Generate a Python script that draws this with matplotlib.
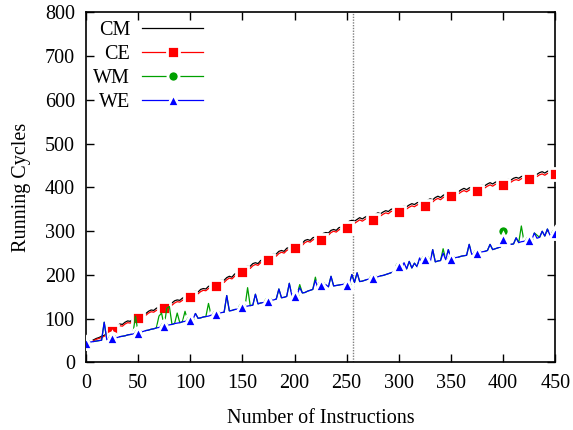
import numpy as np
import matplotlib
matplotlib.use("Agg")
import matplotlib.pyplot as plt

plt.rcParams['font.family'] = ['Liberation Serif', 'DejaVu Serif']
plt.rcParams['font.size'] = 14.5

# x grid: number of instructions (step 2.5)
x_start, x_stop, x_step = 0, 450, 2.5

CM = [45, 47, 49, 52, 55, 57, 60, 62, 66, 70,
      76, 82, 84, 88, 87, 92, 95, 94, 99, 103,
      105, 110, 114, 112, 117, 120, 119, 124, 126, 125,
      128, 134, 137, 136, 141, 143, 142, 147, 150, 151,
      153, 160, 164, 161, 167, 169, 168, 174, 176, 175,
      178, 186, 189, 188, 194, 197, 195, 202, 205, 207,
      210, 218, 221, 220, 226, 228, 226, 233, 235, 236,
      238, 246, 249, 248, 254, 256, 254, 261, 263, 262,
      265, 272, 274, 273, 279, 281, 279, 285, 287, 286,
      286, 295, 297, 296, 302, 304, 302, 308, 310, 309,
      312, 323, 325, 323, 327, 331, 328, 332, 335, 333,
      330, 339, 342, 340, 344, 347, 345, 350, 352, 350,
      349, 355, 358, 356, 360, 363, 361, 365, 367, 365,
      362, 371, 374, 372, 377, 380, 377, 382, 385, 383,
      385, 390, 393, 391, 395, 398, 395, 399, 401, 399,
      397, 403, 406, 404, 408, 411, 408, 412, 414, 412,
      411, 416, 419, 417, 421, 423, 421, 425, 427, 425,
      424, 429, 432, 430, 434, 436, 433, 437, 439, 437,
      435]

CE = [45, 46, 48, 50, 53, 55, 57, 60, 63, 68,
      72, 78, 80, 84, 83, 88, 91, 90, 95, 99,
      101, 106, 110, 108, 113, 116, 115, 119, 122, 121,
      124, 130, 133, 131, 136, 139, 138, 142, 146, 147,
      149, 156, 159, 157, 162, 165, 164, 169, 172, 171,
      174, 181, 185, 183, 189, 193, 191, 197, 201, 203,
      206, 213, 217, 215, 221, 224, 222, 228, 231, 232,
      234, 241, 245, 243, 249, 252, 250, 256, 259, 258,
      261, 267, 270, 268, 274, 277, 275, 280, 283, 282,
      281, 290, 293, 291, 297, 300, 298, 303, 306, 305,
      307, 318, 320, 318, 322, 326, 323, 327, 330, 328,
      325, 334, 337, 335, 339, 342, 340, 345, 347, 345,
      344, 350, 353, 351, 355, 358, 356, 360, 362, 360,
      357, 366, 369, 367, 372, 375, 372, 377, 380, 378,
      380, 385, 388, 386, 390, 393, 390, 394, 396, 394,
      392, 398, 401, 399, 403, 406, 403, 407, 409, 407,
      406, 411, 414, 412, 416, 418, 416, 420, 422, 420,
      419, 424, 427, 425, 429, 431, 428, 432, 434, 432,
      430]

WE = [45, 46, 47, 48, 49, 50, 51, 92, 52, 54,
      55, 56, 57, 59, 60, 61, 63, 64, 65, 67,
      68, 70, 71, 73, 74, 76, 77, 79, 80, 82,
      83, 84, 86, 87, 89, 90, 91, 93, 94, 96,
      97, 98, 112, 101, 102, 104, 105, 106, 108, 109,
      111, 112, 114, 115, 153, 118, 119, 121, 122, 124,
      126, 127, 129, 130, 131, 156, 134, 136, 137, 139,
      140, 142, 143, 145, 168, 148, 149, 151, 181, 152,
      153, 156, 171, 159, 160, 163, 165, 167, 188, 169,
      176, 172, 178, 173, 197, 175, 176, 177, 178, 179,
      178, 180, 201, 183, 205, 185, 186, 188, 190, 191,
      194, 194, 196, 198, 199, 201, 203, 205, 207, 208,
      221, 212, 228, 214, 231, 216, 227, 219, 239, 222,
      237, 226, 228, 258, 230, 232, 233, 250, 235, 258,
      237, 239, 240, 241, 243, 244, 245, 270, 247, 249,
      251, 251, 253, 254, 256, 270, 258, 260, 262, 264,
      283, 267, 268, 270, 271, 285, 274, 276, 277, 279,
      280, 281, 296, 284, 286, 300, 289, 305, 291, 292,
      295]

WM = [45, 46, 47, 48, 49, 50, 51, 92, 52, 54,
      55, 56, 57, 59, 60, 61, 63, 64, 65, 106,
      68, 70, 71, 73, 74, 76, 77, 79, 106, 113,
      83, 124, 128, 87, 89, 113, 91, 93, 117, 96,
      97, 98, 112, 101, 102, 104, 105, 135, 108, 109,
      111, 112, 114, 115, 153, 118, 119, 121, 122, 124,
      126, 127, 171, 130, 131, 156, 134, 136, 137, 139,
      140, 142, 143, 145, 168, 148, 149, 151, 181, 152,
      153, 156, 178, 159, 160, 163, 165, 167, 195, 169,
      176, 172, 178, 173, 197, 175, 176, 177, 178, 179,
      178, 180, 201, 183, 205, 185, 186, 188, 190, 191,
      194, 194, 196, 198, 199, 201, 203, 205, 207, 208,
      221, 212, 228, 214, 231, 216, 227, 219, 239, 222,
      237, 226, 228, 258, 230, 232, 233, 260, 235, 258,
      237, 239, 240, 241, 243, 244, 245, 270, 247, 249,
      251, 251, 253, 254, 256, 270, 258, 260, 262, 264,
      301, 267, 268, 270, 271, 285, 274, 312, 277, 279,
      280, 281, 296, 291, 286, 300, 289, 305, 291, 292,
      295]

x = np.arange(x_start, x_stop + x_step / 2, x_step)

xticks = list(range(0, 451, 50))
yticks = list(range(0, 801, 100))
marker_line = 256

fig = plt.figure(figsize=(5.73, 4.30), dpi=100)
ax = fig.add_axes([0.150, 0.157, 0.819, 0.814])

lw = 0.9
mew = 2.0
ax.axvline(marker_line, color='#808080', linestyle=(0, (1.0, 1.0)), lw=1.0, zorder=1)
ax.plot(x, CM, color='black', lw=lw, label='CM', zorder=2)
ax.plot(x, CE, color='#ff0000', lw=lw, marker='s', markersize=8.5,
        markevery=(10, 10), markerfacecolor='#ff0000',
        markeredgecolor='white', markeredgewidth=mew, label='CE', zorder=3)
ax.plot(x, WM, color='#00a000', lw=lw, marker='o', markersize=8.0,
        markevery=(0, 10), markerfacecolor='#00a000',
        markeredgecolor='white', markeredgewidth=mew, label='WM', zorder=4)
ax.plot(x, WE, color='#0000ff', lw=lw, marker='^', markersize=9.0,
        markevery=(0, 10), markerfacecolor='#0000ff',
        markeredgecolor='white', markeredgewidth=mew, label='WE', zorder=5)

ax.set_xlim(0, 450)
ax.set_ylim(0, 800)
ax.set_xticks(xticks)
ax.set_yticks(yticks)
ax.tick_params(direction='in', length=6, width=1.0, top=True, right=True,
               labelsize=14.5)
ax.tick_params(axis='x', pad=8)
ax.tick_params(axis='y', pad=8)
for s in ax.spines.values():
    s.set_linewidth(1.2)

ax.set_xlabel('Number of Instructions', labelpad=12)
ax.set_ylabel('Running Cycles', labelpad=10)

leg = ax.legend(loc='upper right', bbox_to_anchor=(0.249, 0.975),
                frameon=False, markerfirst=False, handlelength=3.0,
                handletextpad=0.6, labelspacing=0.24, borderpad=0,
                borderaxespad=0, numpoints=1)

fig.savefig('out.png', dpi=100)
